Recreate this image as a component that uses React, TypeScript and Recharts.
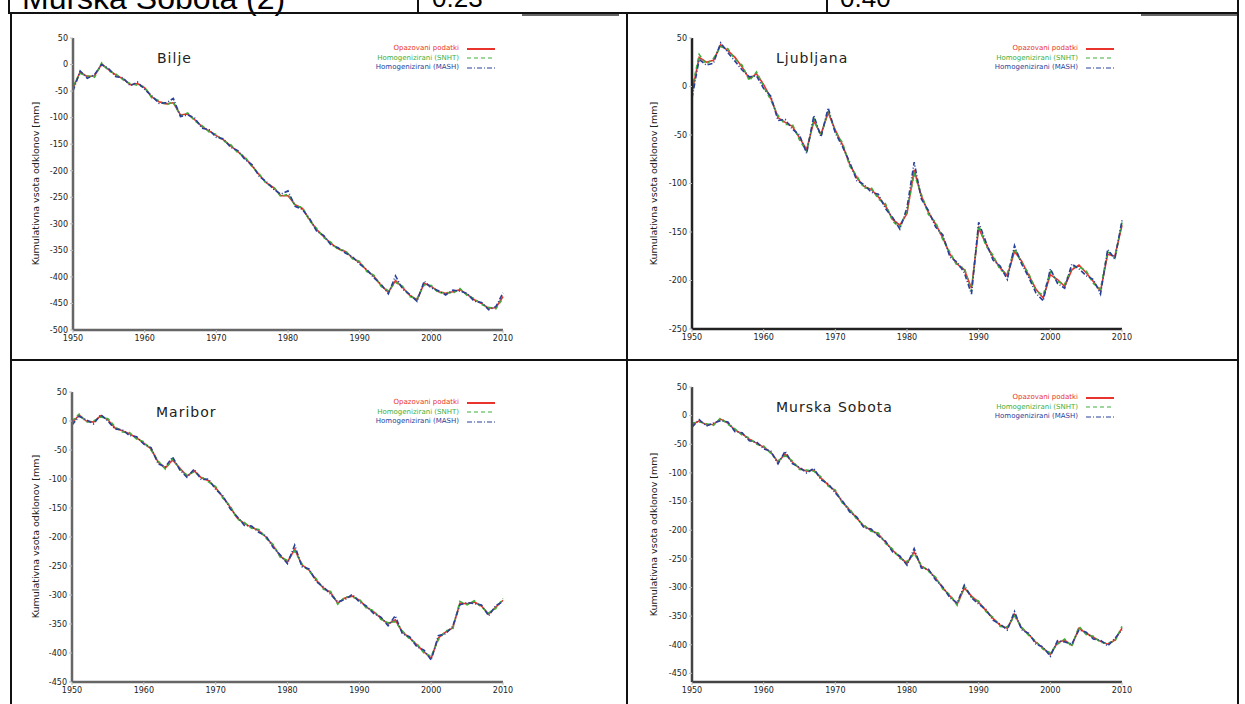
import { LineChart, Line, XAxis, YAxis, Legend } from "recharts";

const years = [
  1950, 1951, 1952, 1953, 1954, 1955, 1956, 1957, 1958, 1959,
  1960, 1961, 1962, 1963, 1964, 1965, 1966, 1967, 1968, 1969,
  1970, 1971, 1972, 1973, 1974, 1975, 1976, 1977, 1978, 1979,
  1980, 1981, 1982, 1983, 1984, 1985, 1986, 1987, 1988, 1989,
  1990, 1991, 1992, 1993, 1994, 1995, 1996, 1997, 1998, 1999,
  2000, 2001, 2002, 2003, 2004, 2005, 2006, 2007, 2008, 2009, 2010,
];
const xTicks = [1950, 1960, 1970, 1980, 1990, 2000, 2010];

const seriesNames = ["Opazovani podatki", "Homogenizirani (SNHT)", "Homogenizirani (MASH)"];

// Bilje
const biljeObs = [-44, -14, -23, -21, 1, -10, -20, -27, -38, -36, -44, -61, -70, -74, -72, -95, -93, -104, -117, -125, -134, -142, -153, -164, -176, -191, -208, -223, -232, -247, -247, -264, -271, -292, -311, -324, -337, -347, -352, -364, -373, -388, -399, -416, -429, -407, -420, -435, -443, -412, -418, -428, -431, -428, -424, -433, -443, -450, -459, -458, -437];
const biljeSnht = [-40, -17, -21, -24, 3, -12, -18, -29, -36, -39, -42, -63, -68, -76, -70, -97, -91, -106, -115, -127, -132, -144, -151, -166, -174, -193, -206, -225, -230, -249, -244, -266, -269, -294, -309, -326, -335, -349, -350, -366, -371, -390, -397, -418, -426, -410, -418, -437, -441, -415, -416, -430, -429, -431, -422, -435, -441, -452, -457, -460, -440];
const biljeMash = [-50, -12, -26, -19, 0, -8, -23, -25, -40, -33, -47, -59, -73, -72, -64, -98, -95, -101, -120, -123, -137, -140, -156, -162, -179, -189, -211, -221, -235, -244, -238, -267, -273, -290, -314, -322, -340, -345, -355, -362, -376, -386, -402, -414, -432, -398, -423, -433, -446, -408, -421, -426, -434, -425, -427, -431, -446, -448, -462, -456, -430];
const biljeTicks = [50, 0, -50, -100, -150, -200, -250, -300, -350, -400, -450, -500];

// Ljubljana
const ljObs = [-6, 30, 25, 27, 43, 37, 30, 20, 8, 13, 2, -12, -32, -37, -41, -53, -65, -36, -49, -27, -45, -60, -80, -94, -103, -106, -114, -123, -137, -143, -131, -86, -113, -130, -142, -156, -173, -183, -189, -208, -146, -162, -176, -187, -195, -170, -180, -195, -209, -218, -194, -199, -206, -189, -184, -192, -201, -211, -173, -175, -143];
const ljSnht = [-3, 33, 23, 29, 41, 39, 28, 22, 6, 15, 0, -14, -30, -39, -39, -55, -67, -33, -51, -25, -47, -58, -82, -92, -105, -104, -116, -121, -139, -145, -128, -90, -111, -132, -140, -158, -171, -185, -187, -211, -143, -164, -174, -189, -193, -167, -182, -193, -211, -215, -191, -201, -204, -186, -186, -190, -203, -209, -170, -177, -140];
const ljMash = [-12, 28, 22, 24, 45, 35, 26, 17, 10, 11, -2, -10, -35, -34, -44, -50, -69, -30, -52, -22, -48, -62, -78, -97, -101, -109, -111, -126, -135, -147, -125, -78, -116, -128, -145, -153, -176, -181, -192, -214, -140, -160, -179, -185, -199, -164, -183, -197, -213, -221, -188, -203, -208, -183, -188, -195, -199, -214, -168, -178, -138];
const ljTicks = [50, 0, -50, -100, -150, -200, -250];

// Maribor
const mbObs = [-3, 10, 0, -2, 9, 2, -12, -17, -22, -29, -38, -48, -71, -81, -67, -81, -95, -86, -98, -103, -115, -131, -148, -167, -177, -183, -189, -200, -215, -233, -243, -221, -248, -257, -274, -288, -296, -314, -305, -302, -309, -321, -329, -340, -350, -343, -364, -374, -386, -398, -409, -374, -364, -357, -314, -315, -312, -319, -333, -321, -309];
const mbSnht = [0, 12, -2, 0, 7, 4, -10, -19, -20, -31, -36, -50, -69, -83, -65, -83, -93, -88, -96, -105, -113, -133, -146, -169, -175, -185, -187, -202, -213, -235, -240, -224, -246, -259, -272, -290, -294, -316, -303, -304, -307, -323, -327, -342, -348, -346, -362, -376, -384, -400, -406, -377, -362, -359, -311, -317, -310, -321, -331, -323, -306];
const mbMash = [-7, 8, 2, -5, 11, 0, -14, -15, -25, -27, -40, -46, -74, -79, -62, -84, -97, -83, -101, -100, -118, -129, -151, -165, -180, -181, -192, -198, -218, -231, -246, -214, -251, -255, -277, -286, -299, -312, -308, -299, -312, -319, -332, -338, -353, -336, -367, -372, -389, -395, -412, -370, -367, -354, -317, -313, -315, -317, -336, -318, -312];
const mbTicks = [50, 0, -50, -100, -150, -200, -250, -300, -350, -400, -450];

// Murska Sobota
const msObs = [-16, -9, -16, -15, -6, -13, -25, -32, -41, -48, -55, -64, -81, -67, -81, -92, -97, -95, -109, -121, -132, -151, -165, -179, -193, -200, -207, -221, -235, -247, -258, -238, -263, -270, -284, -301, -315, -329, -301, -315, -326, -340, -354, -366, -371, -347, -371, -382, -396, -406, -417, -396, -392, -401, -371, -380, -387, -394, -399, -392, -371];
const msSnht = [-13, -11, -14, -17, -4, -15, -23, -34, -39, -50, -53, -66, -79, -70, -79, -94, -95, -97, -107, -123, -130, -153, -163, -181, -191, -202, -205, -223, -233, -249, -255, -241, -261, -272, -282, -303, -313, -331, -298, -317, -324, -342, -352, -368, -369, -350, -369, -384, -394, -408, -414, -399, -390, -403, -368, -382, -385, -396, -397, -394, -368];
const msMash = [-20, -7, -18, -13, -9, -11, -28, -30, -44, -46, -58, -62, -84, -62, -84, -90, -100, -92, -112, -119, -135, -149, -168, -177, -196, -198, -210, -219, -238, -245, -261, -232, -266, -268, -287, -299, -318, -327, -296, -318, -329, -338, -357, -364, -374, -342, -374, -380, -399, -404, -420, -393, -395, -399, -374, -378, -390, -392, -402, -389, -374];
const msTicks = [50, 0, -50, -100, -150, -200, -250, -300, -350, -400, -450];

const RED = "#e8342c";
const GREEN = "#3fae3a";
const BLUE = "#27409a";
const styles = [
  { key: "obs", color: RED, dash: undefined },
  { key: "snht", color: GREEN, dash: "4 3" },
  { key: "mash", color: BLUE, dash: "5 2 1 2" },
];

const W = 600;
const H = 340;

const panels = [
  { title: "Bilje", obs: biljeObs, snht: biljeSnht, mash: biljeMash, ticks: biljeTicks, domain: [-500, 50], cx: 12, cy: 16, plotL: 73, plotT: 38, plotR: 503, plotB: 330, axis: "#666" },
  { title: "Ljubljana", obs: ljObs, snht: ljSnht, mash: ljMash, ticks: ljTicks, domain: [-250, 50], cx: 630, cy: 16, plotL: 692, plotT: 38, plotR: 1122, plotB: 329, axis: "#222" },
  { title: "Maribor", obs: mbObs, snht: mbSnht, mash: mbMash, ticks: mbTicks, domain: [-450, 50], cx: 12, cy: 364, plotL: 72, plotT: 392, plotR: 503, plotB: 682, axis: "#666" },
  { title: "Murska Sobota", obs: msObs, snht: msSnht, mash: msMash, ticks: msTicks, domain: [-465, 50], cx: 630, cy: 364, plotL: 692, plotT: 387, plotR: 1122, plotB: 682, axis: "#444" },
];

function LegendBox() {
  return (
    <div style={{ fontFamily: "DejaVu Sans, sans-serif", fontSize: 7, lineHeight: "9.5px" }}>
      {styles.map((s, i) => (
        <div key={s.key} style={{ display: "flex", justifyContent: "flex-end", alignItems: "center" }}>
          <span style={{ color: s.color, marginRight: 8 }}>{seriesNames[i]}</span>
          <svg width={28} height={6}>
            <line x1={0} y1={3} x2={28} y2={3} stroke={s.color} strokeWidth={i === 0 ? 2 : 1.2} strokeDasharray={s.dash} />
          </svg>
        </div>
      ))}
    </div>
  );
}

function Panel({ p }: { p: any }) {
  const data = years.map((y, i) => ({ year: y, obs: p.obs[i], snht: p.snht[i], mash: p.mash[i] }));
  const margin = {
    top: p.plotT - p.cy,
    right: p.cx + W - p.plotR,
    bottom: p.cy + H - p.plotB - 20,
    left: p.plotL - p.cx - 40,
  };
  const tickStyle = { fontSize: 8, fill: "#222", fontFamily: "DejaVu Sans, sans-serif" };
  return (
    <div style={{ position: "absolute", left: p.cx, top: p.cy, width: W, height: H }}>
      <LineChart width={W} height={H} data={data} margin={margin}>
        <XAxis
          dataKey="year"
          type="number"
          domain={[1950, 2010]}
          ticks={xTicks}
          height={20}
          tick={tickStyle}
          axisLine={{ stroke: p.axis, strokeWidth: 2.5 }}
          tickLine={{ stroke: "#bbb" }}
          tickSize={3}
        />
        <YAxis
          type="number"
          domain={p.domain}
          ticks={p.ticks}
          interval={0}
          width={40}
          tick={tickStyle}
          axisLine={{ stroke: p.axis, strokeWidth: 2.5 }}
          tickLine={{ stroke: "#bbb" }}
          tickSize={3}
        />
        <Legend
          layout="vertical"
          align="center"
          verticalAlign="middle"
          wrapperStyle={{ top: margin.top + 6, right: margin.right + 8 }}
          content={() => <LegendBox />}
        />
        {styles.map((s, i) => (
          <Line
            key={s.key}
            dataKey={s.key}
            name={seriesNames[i]}
            type="linear"
            stroke={s.color}
            strokeWidth={1.6}
            strokeDasharray={s.dash}
            dot={false}
            isAnimationActive={false}
          />
        ))}
      </LineChart>
      <div
        style={{
          position: "absolute",
          left: p.plotL - p.cx + 84,
          top: p.plotT - p.cy + 12,
          fontFamily: "DejaVu Sans, sans-serif",
          fontSize: 14,
          letterSpacing: 1,
          color: "#222",
        }}
      >
        {p.title}
      </div>
      <div
        style={{
          position: "absolute",
          left: 23 - 90,
          top: (p.plotT + p.plotB) / 2 - p.cy - 6,
          width: 180,
          textAlign: "center",
          transform: "rotate(-90deg)",
          fontFamily: "DejaVu Sans, sans-serif",
          fontSize: 9.5,
          color: "#222",
          whiteSpace: "nowrap",
        }}
      >
        Kumulativna vsota odklonov [mm]
      </div>
    </div>
  );
}

const B = "#111";
const rowFont = { position: "absolute" as const, top: -17, fontFamily: "Liberation Sans, Arial, sans-serif", color: "#000", whiteSpace: "nowrap" as const, lineHeight: "normal" };

export default function App() {
  return (
    <div style={{ position: "fixed", left: 0, top: 0, width: 1245, height: 704, background: "#fff", overflow: "hidden" }}>
      {/* cut-off row above */}
      <div style={{ ...rowFont, left: 22, fontSize: 32, top: -20 }}>Murska Sobota (2)</div>
      <div style={{ ...rowFont, left: 432, fontSize: 26 }}>0.23</div>
      <div style={{ ...rowFont, left: 840, fontSize: 26 }}>0.40</div>
      <div style={{ position: "absolute", left: 8, top: 0, width: 2, height: 14, background: B }} />
      <div style={{ position: "absolute", left: 417, top: 0, width: 2, height: 14, background: B }} />
      <div style={{ position: "absolute", left: 826, top: 0, width: 2, height: 14, background: B }} />
      <div style={{ position: "absolute", left: 1237, top: 0, width: 2, height: 14, background: B }} />
      <div style={{ position: "absolute", left: 8, top: 12, width: 1231, height: 2, background: B }} />
      <div style={{ position: "absolute", left: 522, top: 14, width: 97, height: 2, background: "#666" }} />
      <div style={{ position: "absolute", left: 1141, top: 14, width: 97, height: 2, background: "#666" }} />

      {panels.map((p) => (
        <Panel key={p.title} p={p} />
      ))}

      {/* table grid */}
      <div style={{ position: "absolute", left: 10, top: 12, width: 2, height: 692, background: B }} />
      <div style={{ position: "absolute", left: 626, top: 12, width: 2, height: 692, background: B }} />
      <div style={{ position: "absolute", left: 1237, top: 12, width: 2, height: 692, background: B }} />
      <div style={{ position: "absolute", left: 10, top: 359, width: 1229, height: 2, background: B }} />
    </div>
  );
}
